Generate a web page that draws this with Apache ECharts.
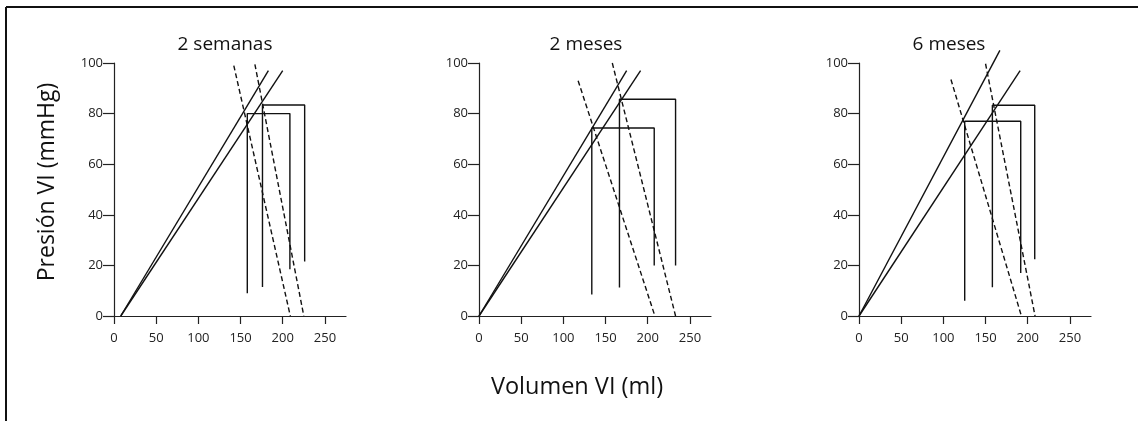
<!DOCTYPE html>
<html>
<head>
<meta charset="utf-8">
<script src="https://cdn.jsdelivr.net/npm/echarts@6/dist/echarts.min.js"></script>
<style>
  html, body { margin: 0; padding: 0; background: #fff; }
  #chart { width: 1138px; height: 421px; }
</style>
</head>
<body>
<div id="chart"></div>
<script>
var chartDom = document.getElementById('chart');
var myChart = echarts.init(chartDom);
var option;

// panel titles and ticks
const panelTitles = ['2 semanas', '2 meses', '6 meses'];
const xTicks = [0, 50, 100, 150, 200, 250];
const yTicks = [0, 20, 40, 60, 80, 100];

// solid lines (pressure-volume relation), one pair of points per panel
const solidA = [
  [[8, 0], [183, 97]],
  [[0, 0], [175, 97]],
  [[0, 0], [167, 105]]
];
const solidB = [
  [[8, 0], [200, 97]],
  [[0, 0], [191.5, 97]],
  [[0, 0], [191, 97]]
];
// dashed lines
const dashC = [
  [[142, 99], [209, 0]],
  [[117.5, 93], [208.5, 0]],
  [[109, 93.5], [192.5, 0]]
];
const dashD = [
  [[167, 99.5], [225, 0]],
  [[158, 100], [233, 0]],
  [[150, 99.7], [208.7, 0]]
];
// bracket shapes (left vertical, top, right vertical)
const loop1 = [
  [[158, 9], [158, 80], [208.5, 80], [208.5, 18.5]],
  [[133.7, 8.5], [133.7, 74.3], [207.7, 74.3], [207.7, 20]],
  [[125.3, 6], [125.3, 77], [191.7, 77], [191.7, 17]]
];
const loop2 = [
  [[176, 11.5], [176, 83.4], [226, 83.4], [226, 21.5]],
  [[166.5, 11.3], [166.5, 85.7], [233, 85.7], [233, 20]],
  [[158.1, 11.4], [158.1, 83.3], [208.3, 83.3], [208.3, 22.4]]
];

const gridLefts = [114, 479, 859];
const titleCenters = [220, 581, 944];
const FONT = 'Open Sans';

var grids = [], xAxes = [], yAxes = [], titles = [], series = [];

panelTitles.forEach(function (t, i) {
  grids.push({ left: gridLefts[i], top: 63, width: 232, height: 253 });
  titles.push({
    text: t,
    left: titleCenters[i],
    top: 30,
    textAlign: 'center',
    textStyle: { fontFamily: FONT, fontSize: 19, fontWeight: 'normal', color: '#111' }
  });
  xAxes.push({
    type: 'value',
    gridIndex: i,
    min: 0,
    max: 275,
    interval: 50,
    splitLine: { show: false },
    axisLine: { onZero: false, lineStyle: { color: '#222', width: 1.2 } },
    axisTick: { customValues: xTicks, length: 8, lineStyle: { color: '#222', width: 1.2 } },
    axisLabel: { customValues: xTicks, margin: 16, fontFamily: FONT, fontSize: 13, color: '#222' }
  });
  yAxes.push({
    type: 'value',
    gridIndex: i,
    min: 0,
    max: 100,
    interval: 20,
    splitLine: { show: false },
    axisLine: { show: true, lineStyle: { color: '#222', width: 1.2 } },
    axisTick: { show: true, length: 11, lineStyle: { color: '#222', width: 1.2 } },
    axisLabel: { margin: 11, fontFamily: FONT, fontSize: 13, color: '#222' }
  });

  function addLine(data, dashed) {
    series.push({
      type: 'line',
      xAxisIndex: i,
      yAxisIndex: i,
      data: data,
      symbol: 'none',
      clip: false,
      silent: true,
      lineStyle: { color: '#111', width: 1.4, type: dashed ? [5, 3] : 'solid' }
    });
  }
  addLine(solidA[i], false);
  addLine(solidB[i], false);
  addLine(dashC[i], true);
  addLine(dashD[i], true);
  addLine(loop1[i], false);
  addLine(loop2[i], false);
});

option = {
  animation: false,
  backgroundColor: '#fff',
  title: titles,
  grid: grids,
  xAxis: xAxes,
  yAxis: yAxes,
  series: series,
  graphic: [
    { type: 'line', shape: { x1: 6, y1: 7, x2: 1138, y2: 7 }, style: { stroke: '#111', lineWidth: 2 } },
    { type: 'line', shape: { x1: 6, y1: 7, x2: 6, y2: 421 }, style: { stroke: '#111', lineWidth: 2 } },
    {
      type: 'text', x: 47, y: 182, rotation: Math.PI / 2,
      style: { text: 'Presión VI (mmHg)', fontFamily: FONT, fontSize: 23, fill: '#111', align: 'center', verticalAlign: 'middle' }
    },
    {
      type: 'text', x: 577, y: 387,
      style: { text: 'Volumen VI (ml)', fontFamily: FONT, fontSize: 23.5, fill: '#111', align: 'center', verticalAlign: 'middle' }
    }
  ]
};

option && myChart.setOption(option);
</script>
</body>
</html>
